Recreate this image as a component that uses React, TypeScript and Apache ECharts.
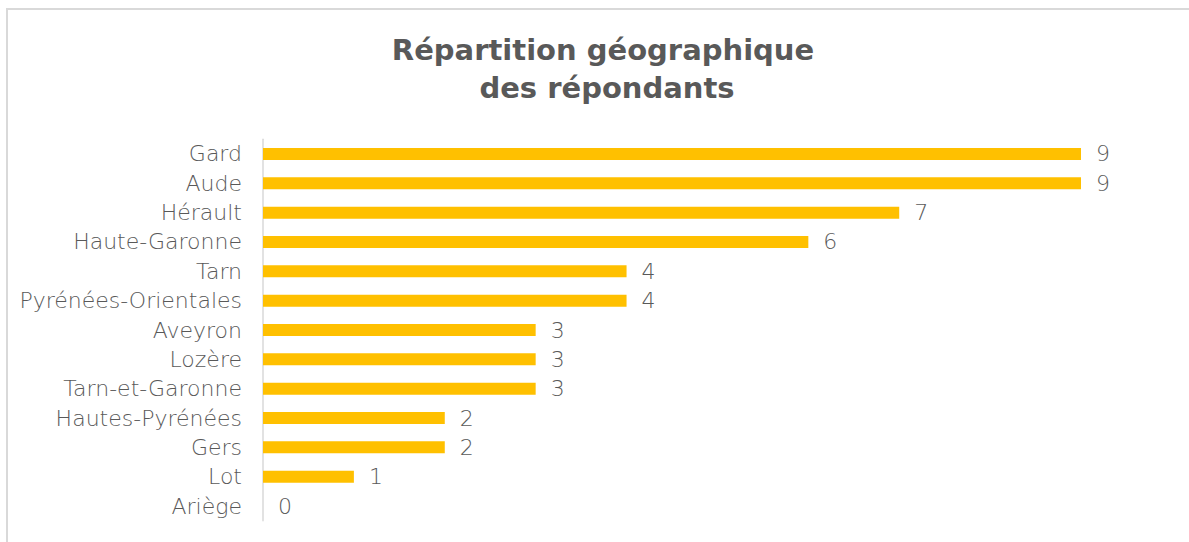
import React, { useEffect, useRef } from "react";
import * as echarts from "echarts";

const categories = [
  "Gard",
  "Aude",
  "Hérault",
  "Haute-Garonne",
  "Tarn",
  "Pyrénées-Orientales",
  "Aveyron",
  "Lozère",
  "Tarn-et-Garonne",
  "Hautes-Pyrénées",
  "Gers",
  "Lot",
  "Ariège",
];
const values = [9, 9, 7, 6, 4, 4, 3, 3, 3, 2, 2, 1, 0];
const titleLines = ["Répartition géographique", "des répondants"];

export default function App() {
  const ref = useRef<HTMLDivElement>(null);
  useEffect(() => {
    document.body.style.margin = "0";
    const chart = echarts.init(ref.current!, null, { renderer: "svg" });
    const labelFont = {
      fontFamily: "DejaVu Sans",
      fontWeight: 200,
      fontSize: 22,
      color: "#595959",
    };
    const titleStyle = {
      fontFamily: "DejaVu Sans",
      fontWeight: "bold",
      fontSize: 29,
      lineHeight: 36,
      color: "#595959",
    };
    chart.setOption({
      animation: false,
      backgroundColor: "#ffffff",
      title: [
        { text: titleLines[0], left: 603, textAlign: "center", top: 32, padding: 0, textStyle: titleStyle },
        { text: titleLines[1], left: 607, textAlign: "center", top: 70, padding: 0, textStyle: titleStyle },
      ],
      graphic: [
        {
          type: "rect",
          shape: { x: 7, y: 9, width: 1300, height: 700 },
          style: { fill: "none", stroke: "#d9d9d9", lineWidth: 2 },
          silent: true,
        },
      ],
      grid: { left: 263, right: 108, top: 139.3, bottom: 21.3, containLabel: false },
      xAxis: {
        type: "value",
        min: 0,
        max: 9,
        show: false,
      },
      yAxis: {
        type: "category",
        data: categories,
        inverse: true,
        axisLine: { show: true, lineStyle: { color: "#d9d9d9", width: 1.5 } },
        axisTick: { show: false },
        axisLabel: { margin: 21, ...labelFont },
        splitLine: { show: false },
      },
      series: [
        {
          type: "bar",
          data: values,
          barWidth: 12,
          itemStyle: { color: "#FFC000" },
          label: {
            show: true,
            position: "right",
            distance: 15,
            ...labelFont,
          },
        },
      ],
    });
    return () => chart.dispose();
  }, []);
  return <div ref={ref} style={{ width: 1189, height: 542 }} />;
}
